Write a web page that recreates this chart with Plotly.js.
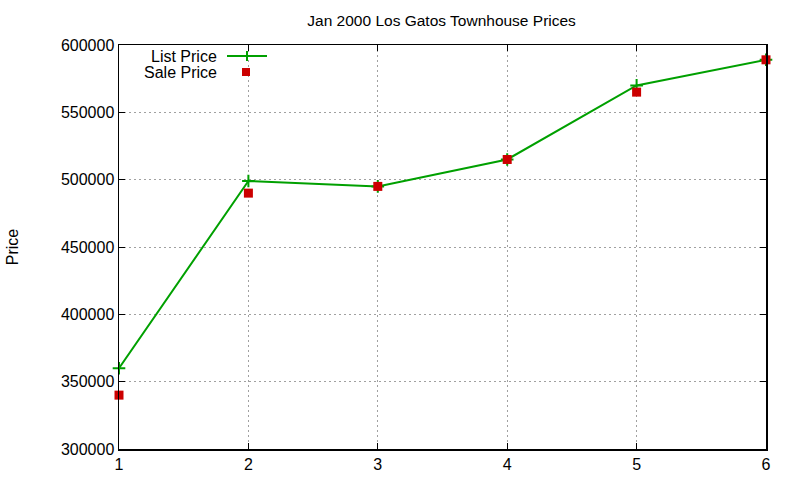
<!DOCTYPE html>
<html>
<head>
<meta charset="utf-8">
<script src="https://cdn.plot.ly/plotly-3.0.1.min.js"></script>
<style>
  html, body { margin: 0; padding: 0; background: #fff; }
  #chart { width: 800px; height: 480px; }
</style>
</head>
<body>
<div id="chart"></div>
<script>
// values
const months = [1, 2, 3, 4, 5, 6];
const listPrice = [360000, 499000, 495000, 515000, 570000, 589000];
const salePrice = [340000, 490000, 495000, 515000, 565000, 589000];
const yTicks = [300000, 350000, 400000, 450000, 500000, 550000, 600000];

const FONT = 'Liberation Sans, Arial, sans-serif';
const GREEN = '#00a000';
const RED = '#cc0000';

const traces = [
    {
        x: months, y: listPrice, name: 'List Price',
        mode: 'lines+markers', type: 'scatter', cliponaxis: false,
        line: {color: GREEN, width: 2},
        marker: {symbol: 'cross-thin', size: 9, line: {color: GREEN, width: 2}},
        showlegend: false
    },
    {
        x: months, y: salePrice, name: 'Sale Price',
        mode: 'markers', type: 'scatter', cliponaxis: false,
        marker: {symbol: 'square', size: 9, color: RED},
        showlegend: false
    }
];

// gnuplot-style key: text right aligned, sample after it (paper coords)
function px(v) { return (v - 119) / 647; }
function py(v) { return 1 - (v - 45) / 404; }

const shapes = [
    {type: 'line', xref: 'paper', yref: 'paper', x0: px(227), x1: px(267), y0: py(56), y1: py(56),
        line: {color: GREEN, width: 2}},
    {type: 'line', xref: 'paper', yref: 'paper', x0: px(247), x1: px(247), y0: py(51), y1: py(61),
        line: {color: GREEN, width: 2}},
    {type: 'rect', xref: 'paper', yref: 'paper', x0: px(242), x1: px(250), y0: py(68), y1: py(76),
        fillcolor: RED, line: {width: 0}}
];

const annotations = [
    {text: 'List Price', xref: 'paper', yref: 'paper', x: px(219), y: py(56),
        xanchor: 'right', yanchor: 'middle', showarrow: false, font: {family: FONT, size: 16, color: '#000'}},
    {text: 'Sale Price', xref: 'paper', yref: 'paper', x: px(219), y: py(72),
        xanchor: 'right', yanchor: 'middle', showarrow: false, font: {family: FONT, size: 16, color: '#000'}}
];

const layout = {
    width: 800, height: 480,
    margin: {l: 119, r: 34, t: 45, b: 31},
    paper_bgcolor: '#fff', plot_bgcolor: '#fff',
    font: {family: FONT, size: 16, color: '#000'},
    title: {text: 'Jan 2000 Los Gatos Townhouse Prices', x: 0.552, xanchor: 'center', y: 0.957, yanchor: 'middle',
        font: {family: FONT, size: 15.5}},
    xaxis: {
        range: [1, 6], tickvals: months, ticktext: months.map(String),
        showline: true, linecolor: '#000', linewidth: 1.5, mirror: 'ticks',
        ticks: 'inside', ticklen: 6, tickcolor: '#000',
        showgrid: true, gridcolor: '#a0a0a0', griddash: '2px,3px', gridwidth: 1,
        zeroline: false, tickfont: {size: 16}
    },
    yaxis: {
        range: [300000, 600000], tickvals: yTicks, ticktext: yTicks.map(String),
        showline: true, linecolor: '#000', linewidth: 1.5, mirror: 'ticks',
        ticks: 'inside', ticklen: 6, tickcolor: '#000',
        showgrid: true, gridcolor: '#a0a0a0', griddash: '2px,3px', gridwidth: 1,
        zeroline: false, tickfont: {size: 16},
        title: {text: 'Price', font: {size: 16}, standoff: 38}
    },
    shapes: shapes,
    annotations: annotations,
    showlegend: false
};

Plotly.newPlot('chart', traces, layout, {displayModeBar: false, staticPlot: true});
</script>
</body>
</html>
